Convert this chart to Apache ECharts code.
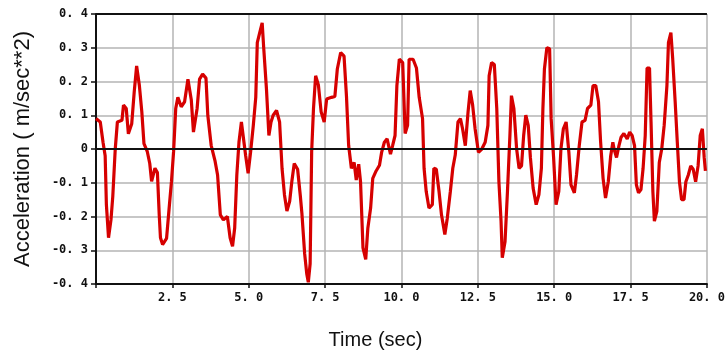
<!DOCTYPE html>
<html>
<head>
<meta charset="utf-8">
<script src="https://cdn.jsdelivr.net/npm/echarts@6/dist/echarts.min.js"></script>
<style>
  html, body { margin: 0; padding: 0; background: #fff; }
  #chart { width: 728px; height: 355px; }
</style>
</head>
<body>
<div id="chart"></div>
<script>
// time (sec)
const time = [
  0.00, 0.14, 0.23, 0.30, 0.34, 0.41, 0.49, 0.55, 0.63, 0.70, 0.85, 0.90, 0.99, 1.06, 1.17, 1.25, 1.33, 1.42, 1.50, 1.57,
  1.68, 1.76, 1.82, 1.93, 2.01, 2.07, 2.11, 2.18, 2.31, 2.39, 2.47, 2.54, 2.61, 2.68, 2.79, 2.90, 3.01, 3.12, 3.19, 3.31,
  3.39, 3.49, 3.60, 3.66, 3.77, 3.90, 3.98, 4.07, 4.17, 4.30, 4.39, 4.47, 4.54, 4.61, 4.68, 4.76, 4.82, 4.90, 4.98, 5.06,
  5.15, 5.23, 5.28, 5.36, 5.44, 5.49, 5.58, 5.66, 5.73, 5.80, 5.91, 6.01, 6.09, 6.17, 6.25, 6.34, 6.41, 6.49, 6.60, 6.69,
  6.74, 6.83, 6.90, 6.95, 7.01, 7.06, 7.12, 7.19, 7.28, 7.37, 7.47, 7.55, 7.71, 7.82, 7.90, 8.01, 8.12, 8.20, 8.27, 8.36,
  8.45, 8.52, 8.60, 8.66, 8.74, 8.83, 8.90, 8.99, 9.06, 9.17, 9.28, 9.35, 9.44, 9.53, 9.64, 9.71, 9.79, 9.85, 9.93, 10.04,
  10.12, 10.20, 10.25, 10.38, 10.49, 10.58, 10.69, 10.74, 10.81, 10.90, 11.01, 11.06, 11.14, 11.23, 11.31, 11.42, 11.50, 11.60, 11.68, 11.76,
  11.85, 11.93, 12.00, 12.09, 12.18, 12.25, 12.33, 12.41, 12.52, 12.63, 12.74, 12.83, 12.87, 12.95, 13.04, 13.12, 13.19, 13.26, 13.30, 13.39,
  13.47, 13.55, 13.60, 13.68, 13.77, 13.85, 13.93, 14.00, 14.07, 14.15, 14.22, 14.31, 14.41, 14.50, 14.58, 14.63, 14.68, 14.76, 14.85, 14.90,
  14.98, 15.06, 15.15, 15.22, 15.30, 15.39, 15.48, 15.55, 15.66, 15.73, 15.82, 15.91, 16.01, 16.09, 16.20, 16.27, 16.36, 16.45, 16.52, 16.60,
  16.68, 16.77, 16.85, 16.92, 16.96, 17.04, 17.12, 17.19, 17.28, 17.39, 17.47, 17.55, 17.63, 17.69, 17.76, 17.84, 17.91, 17.98, 18.04, 18.12,
  18.17, 18.23, 18.28, 18.36, 18.44, 18.52, 18.60, 18.69, 18.74, 18.82, 18.88, 18.96, 19.03, 19.10, 19.17, 19.25, 19.31, 19.39, 19.47, 19.55,
  19.63, 19.71, 19.78, 19.85, 19.91, 19.95
]
// acceleration (m/sec**2)
const accel = [
  0.09, 0.08, 0.02, -0.02, -0.165, -0.263, -0.21, -0.14, 0.0, 0.08, 0.085, 0.13, 0.12, 0.045, 0.075, 0.168, 0.246, 0.188, 0.11, 0.016,
  -0.008, -0.043, -0.096, -0.057, -0.07, -0.195, -0.263, -0.283, -0.265, -0.18, -0.097, -0.008, 0.12, 0.153, 0.125, 0.14, 0.207, 0.145, 0.05, 0.12,
  0.207, 0.222, 0.21, 0.10, 0.011, -0.037, -0.077, -0.195, -0.21, -0.20, -0.263, -0.288, -0.234, -0.077, 0.02, 0.08, 0.075, -0.02, -0.072, -0.01,
  0.07, 0.153, 0.315, 0.345, 0.374, 0.30, 0.178, 0.04, 0.08, 0.10, 0.114, 0.08, -0.057, -0.136, -0.184, -0.155, -0.097, -0.043, -0.06, -0.14,
  -0.19, -0.31, -0.37, -0.395, -0.34, -0.008, 0.12, 0.217, 0.19, 0.11, 0.08, 0.148, 0.153, 0.156, 0.237, 0.286, 0.275, 0.156, 0.011, -0.057,
  -0.04, -0.092, -0.045, -0.097, -0.293, -0.327, -0.234, -0.175, -0.087, -0.065, -0.048, -0.01, 0.02, 0.03, -0.015, 0.01, 0.04, 0.188, 0.266, 0.256,
  0.046, 0.07, 0.266, 0.266, 0.24, 0.153, 0.09, -0.057, -0.126, -0.175, -0.165, -0.057, -0.06, -0.126, -0.195, -0.253, -0.205, -0.126, -0.057, -0.018,
  0.08, 0.09, 0.06, 0.01, 0.11, 0.173, 0.13, 0.06, -0.01, 0.0, 0.02, 0.07, 0.217, 0.256, 0.25, 0.12, -0.097, -0.214, -0.322, -0.275,
  -0.126, 0.04, 0.158, 0.12, 0.0, -0.057, -0.05, 0.04, 0.10, 0.07, -0.025, -0.116, -0.165, -0.135, -0.057, 0.12, 0.237, 0.30, 0.297, 0.09,
  -0.025, -0.165, -0.126, 0.0, 0.06, 0.08, -0.01, -0.106, -0.13, -0.077, 0.01, 0.08, 0.085, 0.12, 0.13, 0.188, 0.188, 0.14, 0.02, -0.087,
  -0.145, -0.097, -0.02, 0.02, 0.0, -0.025, 0.01, 0.035, 0.046, 0.03, 0.05, 0.04, 0.01, -0.106, -0.13, -0.12, -0.057, 0.04, 0.24, 0.24,
  0.08, -0.126, -0.214, -0.185, -0.04, 0.0, 0.07, 0.188, 0.315, 0.345, 0.266, 0.14, 0.02, -0.097, -0.15, -0.15, -0.097, -0.077, -0.05, -0.06,
  -0.097, -0.05, 0.04, 0.06, -0.025, -0.065
]
// tick labels as printed on the picture
const yTickLabels = { '-0.4': '-0. 4', '-0.3': '-0. 3', '-0.2': '-0. 2', '-0.1': '-0. 1', '0': '0',
  '0.1': '0. 1', '0.2': '0. 2', '0.3': '0. 3', '0.4': '0. 4' }
const xTickLabels = { '2.5': '2. 5', '5': '5. 0', '7.5': '7. 5', '10': '10. 0', '12.5': '12. 5',
  '15': '15. 0', '17.5': '17. 5', '20': '20. 0' }

const chart = echarts.init(document.getElementById('chart'))

chart.setOption({
  animation: false,
  grid: {
    left: 96,
    right: 16,
    top: 14,
    bottom: 68,
  },
  xAxis: {
    type: 'value',
    min: 0,
    max: 20,
    interval: 2.5,
    name: 'Time (sec)',
    nameLocation: 'middle',
    nameGap: 46,
    nameTextStyle: {
      fontFamily: 'Liberation Sans',
      fontSize: 20,
      color: '#111',
      padding: [0, 52, 0, 0],
    },
    axisLine: { onZero: false, lineStyle: { color: '#111', width: 2 } },
    axisTick: { show: true, length: 4, lineStyle: { color: '#111', width: 1.5 } },
    axisLabel: {
      margin: 8,
      fontFamily: 'DejaVu Sans Mono',
      fontWeight: 'bold',
      fontSize: 12,
      color: '#111',
      formatter: v => xTickLabels[String(v)] || '',
    },
    splitLine: { show: true, lineStyle: { color: '#b4b4b4', width: 1.5 } },
  },
  yAxis: {
    type: 'value',
    min: -0.4,
    max: 0.4,
    interval: 0.1,
    name: 'Acceleration ( m/sec**2)',
    nameLocation: 'middle',
    nameGap: 62,
    nameTextStyle: {
      fontFamily: 'Liberation Sans',
      fontSize: 22,
      color: '#111',
    },
    axisLine: { show: true, lineStyle: { color: '#111', width: 2 } },
    axisTick: { show: true, length: 5, lineStyle: { color: '#111', width: 1.5 } },
    axisLabel: {
      margin: 8,
      fontFamily: 'DejaVu Sans Mono',
      fontWeight: 'bold',
      fontSize: 12,
      color: '#111',
      formatter: v => yTickLabels[String(Math.round(v * 10) / 10)] || '',
    },
    splitLine: { show: true, lineStyle: { color: '#b4b4b4', width: 1.5 } },
  },
  series: [{
    type: 'line',
    data: time.map((t, i) => [t, accel[i]]),
    showSymbol: false,
    lineStyle: { color: '#d60000', width: 3.2 },
    markLine: {
      silent: true,
      symbol: 'none',
      label: { show: false },
      lineStyle: { color: '#111', width: 2, type: 'solid' },
      data: [{ yAxis: 0 }, { yAxis: 0.4 }],
    },
    z: 3,
  }],
})
</script>
</body>
</html>
